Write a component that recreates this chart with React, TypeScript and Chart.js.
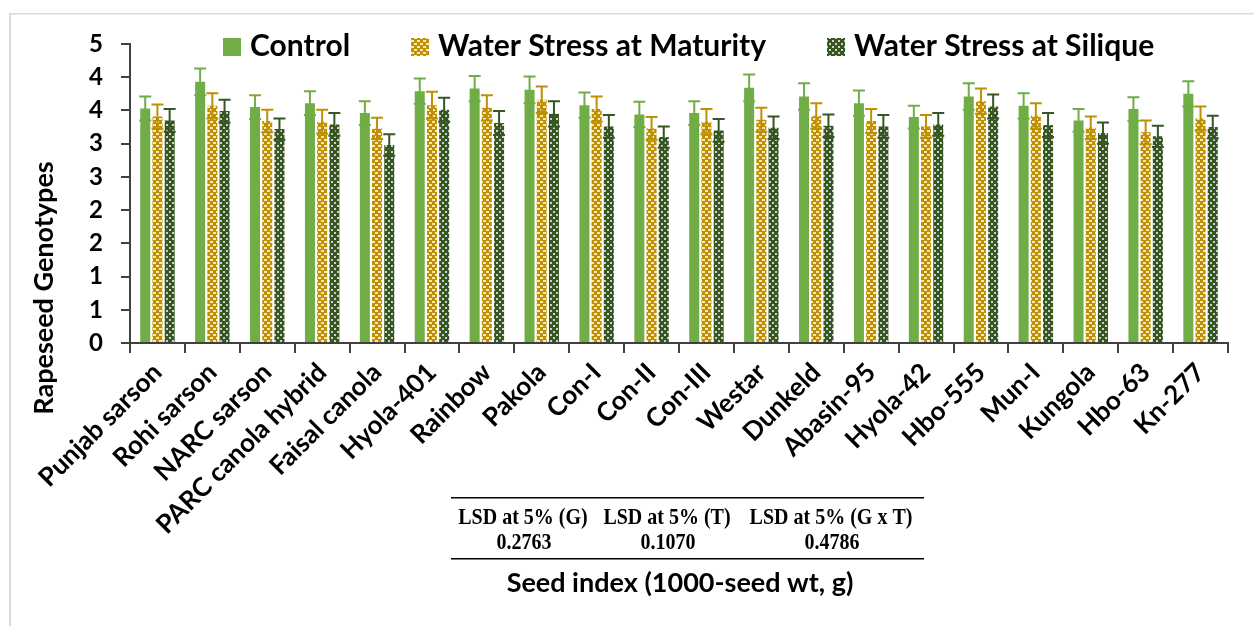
import React, { useEffect, useRef } from "react";
import { Chart, registerables } from "chart.js";
Chart.register(...registerables);

const genotypes = ["Punjab sarson", "Rohi sarson", "NARC sarson", "PARC canola hybrid", "Faisal canola", "Hyola-401", "Rainbow", "Pakola", "Con-I", "Con-II", "Con-III", "Westar", "Dunkeld", "Abasin-95", "Hyola-42", "Hbo-555", "Mun-I", "Kungola", "Hbo-63", "Kn-277"];
const seriesNames = ["Control", "Water Stress at Maturity", "Water Stress at Silique"];
const control = [3.53, 3.93, 3.55, 3.61, 3.46, 3.79, 3.83, 3.81, 3.58, 3.44, 3.46, 3.84, 3.71, 3.61, 3.40, 3.71, 3.57, 3.35, 3.52, 3.75];
const maturity = [3.41, 3.57, 3.34, 3.33, 3.23, 3.58, 3.54, 3.66, 3.52, 3.23, 3.33, 3.36, 3.42, 3.34, 3.26, 3.64, 3.42, 3.24, 3.17, 3.38];
const silique = [3.35, 3.49, 3.22, 3.29, 2.98, 3.51, 3.31, 3.45, 3.26, 3.10, 3.20, 3.24, 3.27, 3.26, 3.29, 3.56, 3.28, 3.16, 3.11, 3.25];
const controlErr = [0.18, 0.20, 0.18, 0.18, 0.18, 0.19, 0.19, 0.20, 0.19, 0.19, 0.18, 0.20, 0.20, 0.19, 0.17, 0.20, 0.19, 0.17, 0.18, 0.19];
const maturityErr = [0.18, 0.19, 0.17, 0.18, 0.16, 0.20, 0.19, 0.20, 0.19, 0.17, 0.19, 0.18, 0.19, 0.18, 0.17, 0.19, 0.19, 0.17, 0.18, 0.18];
const siliqueErr = [0.17, 0.17, 0.16, 0.17, 0.16, 0.18, 0.18, 0.19, 0.17, 0.16, 0.17, 0.17, 0.17, 0.17, 0.17, 0.18, 0.18, 0.16, 0.16, 0.17];
const yMin = 0;
const yMax = 4.5;
const yStep = 0.5;
const yTitle = "Rapeseed Genotypes";
const xTitle = "Seed index (1000-seed wt, g)";
const lsdHeaders = ["LSD at 5% (G)", "LSD at 5% (T)", "LSD at 5% (G x T)"];
const lsdValues = ["0.2763", "0.1070", "0.4786"];

const GREEN = "#70AD47";
const GOLD = "#BF9000";
const DARK = "#375623";
const FONT = "Lato, 'Open Sans', sans-serif";

function makeMaturityPattern(ctx: CanvasRenderingContext2D) {
  const c = document.createElement("canvas");
  c.width = 6; c.height = 6;
  const g = c.getContext("2d")!;
  g.fillStyle = GOLD; g.fillRect(0, 0, 6, 6);
  g.fillStyle = "#F6E7BC";
  g.fillRect(0, 1, 3, 2);
  g.fillRect(3, 4, 3, 2);
  return ctx.createPattern(c, "repeat")!;
}
function makeSiliquePattern(ctx: CanvasRenderingContext2D) {
  const c = document.createElement("canvas");
  c.width = 6; c.height = 6;
  const g = c.getContext("2d")!;
  g.fillStyle = DARK; g.fillRect(0, 0, 6, 6);
  g.fillStyle = "#C9D3C1";
  g.fillRect(1, 1, 2, 2);
  g.fillRect(4, 4, 2, 2);
  return ctx.createPattern(c, "repeat")!;
}

export default function App() {
  const ref = useRef<HTMLCanvasElement | null>(null);
  useEffect(() => {
    const canvas = ref.current!;
    const ctx0 = canvas.getContext("2d")!;
    const matPat = makeMaturityPattern(ctx0);
    const silPat = makeSiliquePattern(ctx0);
    const fills = [GREEN, matPat, silPat];
    const errs = [controlErr, maturityErr, siliqueErr];
    const errColors = [GREEN, GOLD, DARK];

    const decor = {
      id: "decor",
      beforeDraw(chart: any) {
        const ctx = chart.ctx;
        ctx.save();
        ctx.fillStyle = "#fff";
        ctx.fillRect(0, 0, chart.width, chart.height);
        ctx.fillStyle = "#D9D9D9";
        ctx.fillRect(9, 13, 2, chart.height - 13);
        ctx.fillRect(9, 13, chart.width - 9, 1.5);
        ctx.restore();
      },
      afterDatasetsDraw(chart: any) {
        const ctx = chart.ctx;
        const ys = chart.scales.y;
        ctx.save();
        chart.data.datasets.forEach((ds: any, di: number) => {
          const meta = chart.getDatasetMeta(di);
          meta.data.forEach((bar: any, i: number) => {
            const v = ds.data[i];
            const e = errs[di][i];
            const yt = ys.getPixelForValue(v + e);
            const yb = ys.getPixelForValue(v - e);
            const x = bar.x;
            const hw = 6;
            ctx.strokeStyle = errColors[di];
            ctx.lineWidth = 2;
            ctx.beginPath();
            ctx.moveTo(x, yt); ctx.lineTo(x, yb);
            ctx.moveTo(x - hw, yt); ctx.lineTo(x + hw, yt);
            ctx.moveTo(x - hw, yb); ctx.lineTo(x + hw, yb);
            ctx.stroke();
          });
        });
        ctx.restore();
      },
      afterDraw(chart: any) {
        const ctx = chart.ctx;
        ctx.save();
        // legend
        ctx.font = `bold 30px ${FONT}`;
        ctx.textBaseline = "middle";
        ctx.textAlign = "left";
        let x = 223;
        seriesNames.forEach((name, i) => {
          ctx.fillStyle = fills[i];
          ctx.fillRect(x, 38, 18, 18);
          ctx.fillStyle = "#000";
          ctx.fillText(name, x + 27, 46);
          x += 27 + ctx.measureText(name).width + 61;
        });
        // y title
        ctx.save();
        ctx.translate(44, 288);
        ctx.rotate(-Math.PI / 2);
        ctx.textAlign = "center";
        ctx.font = `bold 27px ${FONT}`;
        ctx.fillText(yTitle, 0, 0);
        ctx.restore();
        // LSD table
        ctx.fillStyle = "#000";
        ctx.fillRect(451, 497, 473, 1.5);
        ctx.fillRect(451, 558, 473, 1.5);
        ctx.textAlign = "center";
        const cols = [523, 667, 831];
        ctx.save();
        ctx.scale(1, 1.15);
        ctx.font = "bold 20px 'Liberation Serif', serif";
        lsdHeaders.forEach((h, i) => ctx.fillText(h, cols[i], 518 / 1.15));
        lsdValues.forEach((v, i) => ctx.fillText(v, cols[i] + 1, 543 / 1.15));
        ctx.restore();
        // x title
        ctx.font = `bold 27px ${FONT}`;
        ctx.fillText(xTitle, 680, 583);
        ctx.restore();
      },
    };

    const chart = new Chart(canvas, {
      type: "bar",
      data: {
        labels: genotypes,
        datasets: [
          { label: seriesNames[0], data: control, backgroundColor: fills[0] as any },
          { label: seriesNames[1], data: maturity, backgroundColor: fills[1] as any },
          { label: seriesNames[2], data: silique, backgroundColor: fills[2] as any },
        ],
      },
      options: {
        responsive: false,
        animation: false,
        datasets: { bar: { categoryPercentage: 0.667, barPercentage: 0.82 } },
        layout: { padding: { left: 0, right: 26, top: 44, bottom: 0 } },
        plugins: { legend: { display: false }, tooltip: { enabled: false } },
        scales: {
          x: {
            grid: { offset: true, drawOnChartArea: false, drawTicks: true, tickLength: 10, color: "#404040", lineWidth: 2 },
            border: { color: "#404040", width: 2 },
            ticks: { font: { family: FONT, weight: "bold", size: 26 }, color: "#000", minRotation: 45, maxRotation: 45, autoSkip: false, padding: 4 },
            afterFit: (s: any) => { s.height = 626 - 343; s.paddingLeft = 0; s.paddingRight = 0; },
          },
          y: {
            min: yMin, max: yMax,
            grid: { drawOnChartArea: false, drawTicks: true, tickLength: 9, color: "#404040", lineWidth: 2 },
            border: { color: "#404040", width: 2 },
            ticks: { stepSize: yStep, color: "#000", font: { family: FONT, weight: "bold", size: 24 }, padding: 18, callback: (v: any) => String(Math.round(Number(v))) },
            afterFit: (s: any) => { s.width = 130; },
          },
        },
      } as any,
      plugins: [decor],
    });
    return () => chart.destroy();
  }, []);
  return (
    <div style={{ position: "absolute", left: 0, top: 0, width: 1254, height: 626, background: "#fff" }}>
      <canvas ref={ref} width={1254} height={626} style={{ display: "block" }} />
    </div>
  );
}
